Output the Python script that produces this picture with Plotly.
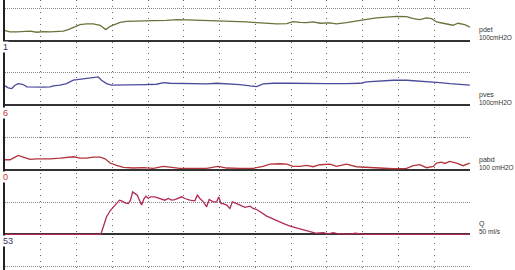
import plotly.graph_objects as go

W, H = 515, 270

# ---------------- data (time in s, pressures in cmH2O, flow in ml/s) -------------
pdet_t = [0, 1.4, 3.3, 5.1, 7.0, 8.9, 10.7, 12.6, 14.4, 16.3, 17.7, 19.1, 21.0, 22.8, 24.7,
          26.6, 27.5, 28.2, 29.4, 30.8, 32.2, 34.0, 35.9, 38.7, 41.5, 45.2, 48.0, 50.8, 54.5, 58.2,
          62.0, 63.8, 67.6, 70.4, 73.2, 76.0, 78.8, 80.6, 82.5, 84.3, 86.2, 88.1, 90.9, 92.7, 95.5,
          98.3, 101.1, 103.9, 106.7, 109.5, 112.3, 114.2, 116.0, 117.9, 119.3, 120.7, 122.5, 124.0,
          125.3, 126.7, 128.6, 130.0]
pdet_v = [15.4, 13.3, 13.3, 14.4, 14.4, 12.8, 13.8, 13.3, 13.8, 14.4, 16.9, 20.5, 24.6, 25.6, 25.6,
          23.6, 19.5, 16.9, 22.0, 25.6, 28.2, 29.7, 29.7, 30.3, 30.8, 31.3, 32.3, 31.8, 31.3, 30.8,
          29.7, 30.3, 28.7, 27.7, 26.2, 25.6, 26.2, 29.2, 28.2, 27.7, 28.7, 26.7, 27.2, 25.6, 27.7,
          29.7, 32.8, 34.9, 36.4, 37.4, 36.9, 33.8, 32.3, 34.9, 33.8, 28.7, 26.7, 25.6,
          23.6, 26.7, 24.6, 20.5]

pves_t = [0, 0.9, 1.9, 2.8, 3.7, 5.1, 6.1, 7.9, 10.7, 12.6, 13.5, 15.4, 17.2, 19.1, 21.0,
          22.8, 24.7, 26.1, 27.0, 28.4, 29.8, 32.2, 35.9, 39.6, 42.4, 44.3, 46.1, 48.9, 52.7, 56.4,
          59.2, 62.0, 65.7, 68.5, 70.4, 72.2, 75.0, 79.7, 84.3, 89.9, 95.5, 99.3, 101.1, 104.8, 108.6,
          112.3, 116.0, 118.8, 121.6, 124.4, 127.2, 130.0]
pves_v = [29.7, 26.7, 25.6, 30.8, 33.3, 31.8, 28.2, 27.7, 27.7, 28.2, 29.7, 30.8, 33.3, 38.5, 40.0,
          42.1, 42.6, 43.6, 38.5, 33.3, 30.8, 30.8, 31.3, 31.8, 32.3, 34.9, 33.8, 33.3, 32.8, 32.8,
          33.8, 33.3, 31.8, 29.7, 28.7, 32.8, 33.8, 33.8, 33.3, 33.3, 33.3, 33.8, 35.9, 37.4, 38.5,
          38.5, 37.4, 35.9, 34.9, 33.3, 32.3, 30.8]

pabd_t = [0, 1.4, 2.3, 3.7, 5.1, 7.0, 8.9, 10.7, 12.6, 15.4, 17.2, 19.1, 21.0, 22.8, 24.7,
          26.6, 28.0, 29.4, 31.2, 33.1, 35.9, 38.7, 41.5, 44.3, 46.1, 48.9, 52.7, 56.4, 59.6, 62.0,
          65.7, 69.4, 72.2, 74.1, 76.9, 78.8, 80.6, 82.5, 84.3, 86.2, 88.1, 90.9, 92.7, 95.5, 98.3,
          101.1, 104.8, 108.6, 112.3, 114.2, 116.0, 117.9, 119.8, 120.7, 122.1, 123.0, 124.4, 126.3,
          128.1, 130.0]
pabd_v = [15.4, 15.4, 17.9, 22.0, 19.5, 15.9, 16.9, 16.4, 16.9, 17.9, 19.0, 20.0, 17.9, 17.9, 19.5,
          19.5, 16.9, 10.3, 6.7, 3.6, 2.6, 3.1, 2.1, 5.1, 4.1, 2.1, 2.1, 2.1, 5.1, 2.6,
          2.1, 2.1, 5.1, 8.7, 9.2, 8.7, 5.1, 5.1, 6.7, 4.6, 7.7, 8.7, 5.1, 8.7, 4.6,
          3.6, 2.6, 1.5, 2.1, 6.2, 7.7, 3.1, 5.1, 10.3, 11.8, 9.7, 12.8, 10.3,
          6.2, 10.3]

q_t = [0, 26.8, 27.5, 28.4, 29.4, 30.3, 31.2, 32.0, 32.6, 33.6, 34.5, 35.1, 35.7, 36.3, 37.0,
       37.6, 38.2, 38.9, 39.4, 40.1, 40.7, 41.9, 43.3, 44.7, 45.7, 46.6, 47.5, 48.5, 49.4, 50.3,
       51.7, 53.1, 53.8, 54.5, 55.5, 56.4, 57.1, 58.2, 59.2, 59.8, 60.4, 61.0, 62.0, 62.9, 63.6,
       64.8, 65.7, 67.1, 68.5, 69.4, 70.4, 71.3, 72.2, 73.2, 74.6, 76.0, 77.8, 79.7, 81.5, 83.4,
       85.3, 87.1, 89.0, 90.4, 91.8, 93.2, 95.1, 96.5, 97.9, 99.3, 100.7, 130.0]
q_v = [0, 0, 5.9, 13.6, 18.2, 20.8, 23.8, 26.4, 25.9, 24.4, 23.8, 26.4, 32.8, 31.5, 30.3,
       26.4, 22.6, 27.7, 29.5, 27.7, 29.0, 29.0, 27.7, 26.4, 27.7, 26.4, 26.9, 27.7, 29.0, 27.7,
       26.4, 25.9, 30.3, 27.7, 25.1, 21.3, 26.9, 25.1, 25.1, 29.0, 23.8, 23.8, 22.6, 20.0, 25.1,
       23.8, 22.6, 20.8, 21.8, 20.0, 19.2, 17.4, 16.2, 14.1, 12.3, 10.5, 8.5, 6.4, 5.1, 3.3,
       2.1, 0.8, 1.3, 0.3, 1.3, 0.3, 0.3, 0, 0.8, 0.3, 0, 0]

left_labels = ["1", "6", "0", "53"]
right_names = ["pdet", "pves", "pabd", "Q"]
right_units = ["100cmH2O", "100cmH2O", "100 cmH2O", "50 ml/s"]

# ---------------- layout helpers (pixel geometry) ----------------
FONT = "Liberation Sans, Arial, sans-serif"
x0px, x1px = 5, 470
bases = [40.5, 105.1, 169.7, 234.3]          # baseline pixel rows
tops = [0, 47, 113, 177]
bots = [47, 113, 177, 270]
kpx = [0.646, 0.646, 0.646, 1.292]            # px per unit
ygrid = [[50], [50], [50], [-25, 25]]


def dom(top, bot):
    return [1 - bot / H, 1 - top / H]


def rng(top, bot, base, k):
    return [-(bot - base) / k, (base - top) / k]


fig = go.Figure()
series = [(pdet_t, pdet_v, "#66743a"), (pves_t, pves_v, "#4b4b9c"),
          (pabd_t, pabd_v, "#b3343a"), (q_t, q_v, "#b02c55")]
for i, (t, v, c) in enumerate(series):
    fig.add_trace(go.Scatter(x=t, y=v, mode="lines", xaxis="x",
                             yaxis="y" if i == 0 else f"y{i+1}",
                             line=dict(color=c, width=1.3), hoverinfo="skip",
                             showlegend=False))

layout = dict(
    width=W, height=H, margin=dict(l=0, r=0, t=0, b=0),
    paper_bgcolor="white", plot_bgcolor="white", showlegend=False,
    xaxis=dict(domain=[x0px / W, x1px / W], range=[0, 130.05], dtick=10, tick0=0,
               showgrid=True, gridcolor="#666", gridwidth=1, griddash="1px,5px",
               showticklabels=False, ticks="", zeroline=False, showline=False,
               anchor="y4"),
)
for i in range(4):
    name = "yaxis" if i == 0 else f"yaxis{i+1}"
    layout[name] = dict(
        domain=dom(tops[i], bots[i]), range=rng(tops[i], bots[i], bases[i], kpx[i]),
        tickmode="array", tickvals=ygrid[i], showticklabels=False, ticks="",
        showgrid=True, gridcolor="#888", gridwidth=1, griddash="1px,1px",
        zeroline=True, zerolinecolor="#333", zerolinewidth=1.6,
        showline=True, linecolor="#222", linewidth=1.6, anchor="x",
    )
fig.update_layout(**layout)

left_colors = ["#2c2c5c", "#c03a3a", "#c03a3a", "#34345e"]
left_y = [47, 113, 177, 241]
for lab, col, yp in zip(left_labels, left_colors, left_y):
    fig.add_annotation(text=lab, xref="paper", yref="paper", x=2 / W, y=1 - yp / H,
                       xanchor="left", yanchor="middle", showarrow=False,
                       bgcolor="white", borderpad=0,
                       font=dict(family=FONT, size=9, color=col))

for i in range(4):
    fig.add_annotation(text=right_names[i], xref="paper", yref="paper", x=477 / W,
                       y=1 - (bases[i] - 10) / H, xanchor="left", yanchor="middle",
                       showarrow=False, font=dict(family=FONT, size=7, color="#333"))
    fig.add_annotation(text=right_units[i], xref="paper", yref="paper", x=477 / W,
                       y=1 - (bases[i] - 2.5) / H, xanchor="left", yanchor="middle",
                       showarrow=False, font=dict(family=FONT, size=6.5, color="#333"))

fig.write_html("out.html")
